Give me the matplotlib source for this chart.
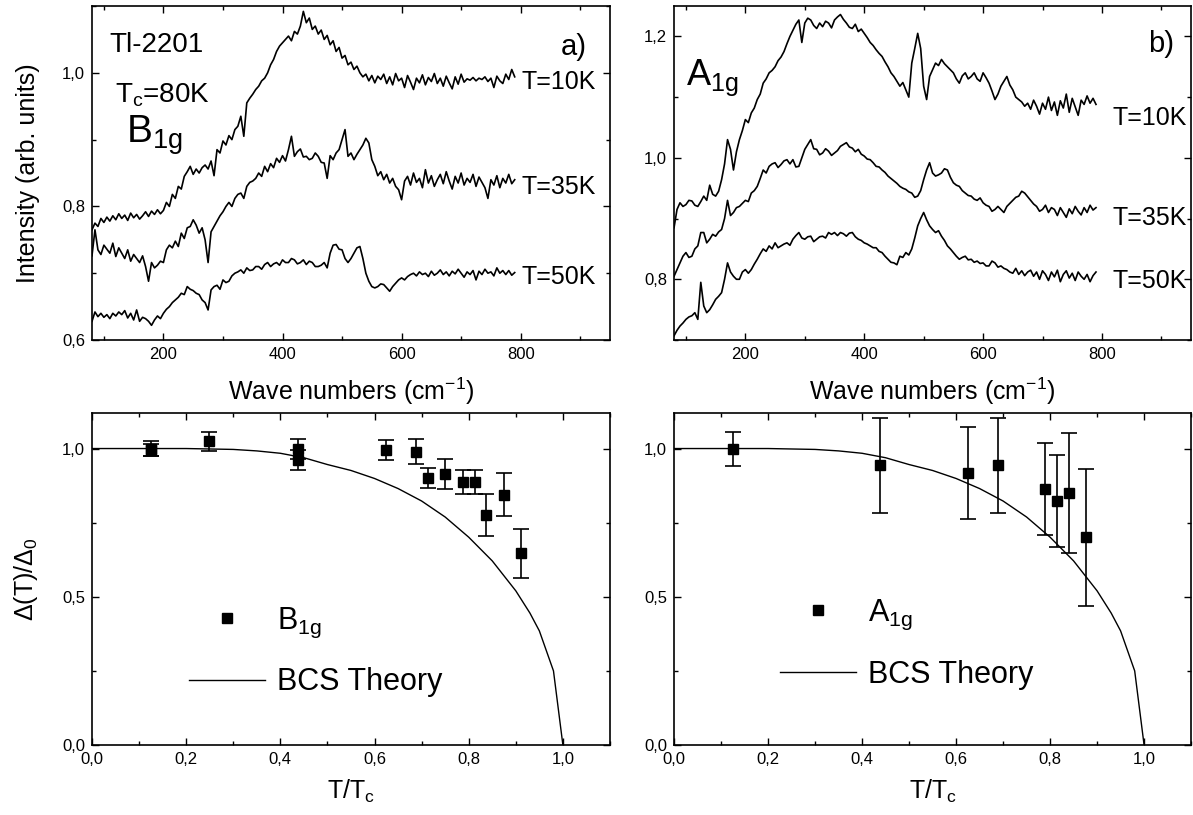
import matplotlib
matplotlib.use("Agg")
import matplotlib.pyplot as plt
import numpy as np
from matplotlib.ticker import MultipleLocator, FuncFormatter
from matplotlib.lines import Line2D

plt.rcParams['font.family'] = ['Liberation Sans', 'DejaVu Sans']
plt.rcParams['mathtext.fontset'] = 'custom'
plt.rcParams['mathtext.rm'] = 'Liberation Sans'
plt.rcParams['mathtext.it'] = 'Liberation Sans:italic'

# Raman spectra, sampled every 5 cm-1 from 80 to 790
wavenumber = np.arange(80, 791, 5)

b1g_10K = [0.765, 0.775, 0.770, 0.782, 0.776, 0.784, 0.778, 0.786, 0.780, 0.789,
           0.782, 0.787, 0.779, 0.790, 0.783, 0.788, 0.781, 0.786, 0.792, 0.785,
           0.793, 0.788, 0.795, 0.789, 0.794, 0.806, 0.800, 0.818, 0.812, 0.830,
           0.826, 0.845, 0.852, 0.860, 0.848, 0.856, 0.850, 0.858, 0.862, 0.856,
           0.868, 0.846, 0.885, 0.880, 0.898, 0.892, 0.906, 0.900, 0.915, 0.920,
           0.935, 0.905, 0.955, 0.962, 0.968, 0.975, 0.980, 0.988, 0.992, 1.000,
           1.012, 1.020, 1.032, 1.040, 1.045, 1.050, 1.055, 1.048, 1.062, 1.058,
           1.070, 1.092, 1.075, 1.082, 1.065, 1.070, 1.058, 1.064, 1.050, 1.056,
           1.042, 1.048, 1.032, 1.038, 1.022, 1.026, 1.012, 1.016, 1.005, 1.010,
           1.000, 0.994, 0.998, 0.988, 0.996, 0.985, 0.995, 0.990, 0.998, 0.984,
           0.994, 0.982, 0.999, 0.988, 0.992, 0.978, 0.996, 0.986, 0.975, 0.992,
           0.985, 0.997, 0.982, 0.993, 0.987, 0.999, 0.984, 0.992, 0.980, 0.995,
           0.985, 0.976, 0.994, 0.983, 0.998, 0.986, 0.991, 0.989, 0.993, 0.988,
           0.992, 0.990, 0.994, 0.987, 0.992, 0.978, 0.995, 0.988, 0.984, 0.998,
           0.990, 1.005, 0.994]
b1g_35K = [0.726, 0.765, 0.735, 0.728, 0.742, 0.736, 0.730, 0.745, 0.725, 0.738,
           0.730, 0.722, 0.735, 0.718, 0.728, 0.722, 0.716, 0.726, 0.710, 0.688,
           0.716, 0.708, 0.712, 0.718, 0.716, 0.735, 0.742, 0.738, 0.748, 0.740,
           0.760, 0.752, 0.768, 0.770, 0.780, 0.772, 0.760, 0.768, 0.750, 0.716,
           0.762, 0.770, 0.778, 0.786, 0.792, 0.800, 0.806, 0.800, 0.812, 0.818,
           0.820, 0.812, 0.830, 0.836, 0.838, 0.842, 0.850, 0.845, 0.860, 0.852,
           0.864, 0.858, 0.872, 0.866, 0.876, 0.868, 0.885, 0.905, 0.875, 0.882,
           0.886, 0.874, 0.875, 0.870, 0.872, 0.880, 0.875, 0.866, 0.865, 0.842,
           0.876, 0.870, 0.880, 0.885, 0.900, 0.915, 0.875, 0.880, 0.870, 0.878,
           0.885, 0.892, 0.902, 0.895, 0.870, 0.860, 0.846, 0.852, 0.840, 0.848,
           0.835, 0.842, 0.830, 0.825, 0.810, 0.838, 0.845, 0.832, 0.850, 0.836,
           0.842, 0.828, 0.855, 0.835, 0.846, 0.830, 0.840, 0.848, 0.834, 0.852,
           0.838, 0.826, 0.845, 0.835, 0.850, 0.832, 0.842, 0.836, 0.848, 0.830,
           0.844, 0.836, 0.828, 0.812, 0.840, 0.832, 0.846, 0.828, 0.842, 0.835,
           0.848, 0.834, 0.840]
b1g_50K = [0.628, 0.642, 0.635, 0.640, 0.634, 0.638, 0.632, 0.640, 0.636, 0.642,
           0.638, 0.644, 0.633, 0.640, 0.630, 0.645, 0.628, 0.634, 0.632, 0.628,
           0.622, 0.630, 0.636, 0.632, 0.640, 0.646, 0.650, 0.656, 0.660, 0.664,
           0.670, 0.668, 0.680, 0.676, 0.674, 0.670, 0.668, 0.660, 0.656, 0.645,
           0.675, 0.680, 0.682, 0.676, 0.690, 0.686, 0.688, 0.696, 0.700, 0.702,
           0.705, 0.700, 0.708, 0.704, 0.705, 0.710, 0.710, 0.706, 0.713, 0.716,
           0.710, 0.714, 0.716, 0.712, 0.720, 0.716, 0.716, 0.722, 0.720, 0.714,
           0.716, 0.720, 0.713, 0.718, 0.716, 0.710, 0.710, 0.712, 0.716, 0.708,
           0.730, 0.742, 0.743, 0.736, 0.735, 0.722, 0.716, 0.722, 0.730, 0.738,
           0.740, 0.722, 0.700, 0.688, 0.680, 0.678, 0.680, 0.684, 0.683, 0.678,
           0.673, 0.680, 0.685, 0.690, 0.693, 0.690, 0.695, 0.698, 0.700, 0.696,
           0.702, 0.698, 0.700, 0.695, 0.703, 0.697, 0.700, 0.705, 0.698, 0.702,
           0.696, 0.703, 0.699, 0.706, 0.700, 0.694, 0.702, 0.698, 0.704, 0.690,
           0.703, 0.698, 0.706, 0.700, 0.702, 0.696, 0.708, 0.700, 0.704, 0.698,
           0.704, 0.697, 0.701]

a1g_10K = [0.885, 0.915, 0.926, 0.920, 0.923, 0.930, 0.929, 0.922, 0.920, 0.928,
           0.937, 0.930, 0.955, 0.940, 0.937, 0.945, 0.964, 0.990, 1.030, 1.014,
           0.980, 1.010, 1.030, 1.045, 1.063, 1.058, 1.074, 1.082, 1.096, 1.105,
           1.123, 1.130, 1.140, 1.144, 1.150, 1.160, 1.166, 1.175, 1.188, 1.200,
           1.210, 1.220, 1.227, 1.190, 1.222, 1.230, 1.227, 1.218, 1.213, 1.222,
           1.216, 1.225, 1.222, 1.214, 1.227, 1.232, 1.236, 1.228, 1.222, 1.215,
           1.213, 1.220, 1.208, 1.212, 1.205, 1.198, 1.190, 1.185, 1.178, 1.172,
           1.167, 1.158, 1.150, 1.140, 1.134, 1.126, 1.118, 1.124, 1.112, 1.100,
           1.156, 1.180, 1.205, 1.180, 1.118, 1.096, 1.134, 1.145, 1.156, 1.152,
           1.162, 1.155, 1.150, 1.145, 1.140, 1.130, 1.123, 1.135, 1.140, 1.130,
           1.134, 1.140, 1.130, 1.126, 1.140, 1.132, 1.123, 1.110, 1.096, 1.105,
           1.118, 1.126, 1.134, 1.120, 1.112, 1.100, 1.096, 1.092, 1.085, 1.090,
           1.080, 1.095, 1.085, 1.072, 1.090, 1.080, 1.100, 1.078, 1.092, 1.070,
           1.094, 1.082, 1.105, 1.075, 1.098, 1.084, 1.070, 1.095, 1.088, 1.102,
           1.090, 1.098, 1.088]
a1g_35K = [0.805, 0.816, 0.827, 0.838, 0.844, 0.836, 0.838, 0.850, 0.855, 0.877,
           0.877, 0.860, 0.866, 0.874, 0.871, 0.878, 0.882, 0.900, 0.930, 0.905,
           0.910, 0.918, 0.920, 0.925, 0.930, 0.928, 0.942, 0.946, 0.953, 0.966,
           0.980, 0.975, 0.986, 0.990, 0.992, 0.984, 0.989, 0.995, 0.997, 0.990,
           0.997, 0.985, 0.986, 1.000, 1.014, 1.022, 1.030, 1.015, 1.014, 1.005,
           1.008, 1.015, 1.011, 1.004, 1.008, 1.012, 1.019, 1.022, 1.025, 1.018,
           1.016, 1.010, 1.014, 1.006, 1.003, 0.998, 0.997, 0.992, 0.986, 0.985,
           0.980, 0.976, 0.970, 0.966, 0.962, 0.958, 0.953, 0.950, 0.948, 0.944,
           0.942, 0.935, 0.937, 0.946, 0.964, 0.980, 0.992, 0.975, 0.970, 0.972,
           0.975, 0.982, 0.980, 0.968, 0.959, 0.955, 0.953, 0.946, 0.942, 0.938,
           0.937, 0.932, 0.930, 0.934, 0.926, 0.922, 0.920, 0.912, 0.915, 0.920,
           0.915, 0.910, 0.920, 0.925, 0.930, 0.935, 0.937, 0.945, 0.942, 0.936,
           0.930, 0.924, 0.920, 0.912, 0.915, 0.922, 0.910, 0.918, 0.915, 0.905,
           0.918, 0.910, 0.902, 0.916, 0.908, 0.920, 0.912, 0.906, 0.918, 0.910,
           0.922, 0.914, 0.918]
a1g_50K = [0.707, 0.716, 0.723, 0.728, 0.734, 0.738, 0.740, 0.745, 0.734, 0.795,
           0.756, 0.745, 0.750, 0.758, 0.767, 0.772, 0.778, 0.800, 0.827, 0.812,
           0.805, 0.800, 0.800, 0.812, 0.816, 0.810, 0.816, 0.825, 0.833, 0.842,
           0.850, 0.846, 0.855, 0.850, 0.860, 0.852, 0.855, 0.858, 0.860, 0.856,
           0.866, 0.872, 0.877, 0.868, 0.866, 0.870, 0.871, 0.862, 0.866, 0.870,
           0.871, 0.868, 0.877, 0.874, 0.877, 0.872, 0.877, 0.875, 0.871, 0.876,
           0.877, 0.870, 0.866, 0.864, 0.860, 0.858, 0.855, 0.852, 0.852, 0.846,
           0.844, 0.838, 0.833, 0.828, 0.827, 0.824, 0.838, 0.836, 0.844, 0.840,
           0.850, 0.868, 0.888, 0.900, 0.910, 0.898, 0.888, 0.882, 0.877, 0.880,
           0.871, 0.864, 0.855, 0.850, 0.844, 0.838, 0.833, 0.836, 0.838, 0.832,
           0.833, 0.828, 0.830, 0.826, 0.827, 0.822, 0.822, 0.830, 0.827, 0.820,
           0.822, 0.818, 0.816, 0.812, 0.810, 0.818, 0.808, 0.814, 0.806, 0.812,
           0.815, 0.805, 0.812, 0.800, 0.814, 0.808, 0.798, 0.812, 0.804, 0.815,
           0.796, 0.808, 0.814, 0.802, 0.810, 0.798, 0.812, 0.805, 0.800, 0.808,
           0.796, 0.806, 0.812]

# BCS curve
bcs_t = [0.0, 0.1, 0.2, 0.3, 0.35, 0.4, 0.45, 0.5, 0.55, 0.6, 0.65, 0.7,
         0.75, 0.8, 0.85, 0.9, 0.93, 0.95, 0.98, 1.0]
bcs_gap = [1.0, 1.0, 1.0, 0.997, 0.992, 0.984, 0.969, 0.946, 0.926, 0.899,
           0.865, 0.823, 0.769, 0.701, 0.621, 0.520, 0.445, 0.385, 0.25, 0.0]

# gap values with error bars
b1g_t = [0.125, 0.125, 0.249, 0.438, 0.438, 0.625, 0.688, 0.713, 0.749, 0.787, 0.813, 0.837, 0.876, 0.912]
b1g_gap = [1.0, 0.995, 1.024, 0.998, 0.962, 0.996, 0.989, 0.902, 0.914, 0.886, 0.886, 0.776, 0.844, 0.647]
b1g_err = [0.025, 0.02, 0.033, 0.033, 0.033, 0.034, 0.042, 0.034, 0.05, 0.04, 0.04, 0.072, 0.073, 0.083]

a1g_t = [0.126, 0.439, 0.626, 0.690, 0.790, 0.814, 0.841, 0.877]
a1g_gap = [0.999, 0.944, 0.918, 0.944, 0.863, 0.823, 0.849, 0.700]
a1g_err = [0.058, 0.16, 0.155, 0.16, 0.154, 0.155, 0.203, 0.23]

comma = FuncFormatter(lambda v, p: f"{v:.1f}".replace('.', ','))
intfmt = FuncFormatter(lambda v, p: f"{v:.0f}")


def style(ax):
    ax.tick_params(which='both', direction='in', top=True, right=True,
                   labelsize=12, width=1.0, pad=5)
    ax.tick_params(which='major', length=5)
    ax.tick_params(which='minor', length=3)
    for s in ax.spines.values():
        s.set_linewidth(1.2)


fig = plt.figure(figsize=(11.93, 8.15), dpi=100)
ax_a = fig.add_axes([0.0771, 0.5828, 0.4342, 0.4098])
ax_b = fig.add_axes([0.5650, 0.5828, 0.4334, 0.4098])
ax_c = fig.add_axes([0.0771, 0.0859, 0.4342, 0.4074])
ax_d = fig.add_axes([0.5650, 0.0859, 0.4334, 0.4074])

# top panels: spectra
for ax, curves in ((ax_a, (b1g_10K, b1g_35K, b1g_50K)),
                   (ax_b, (a1g_10K, a1g_35K, a1g_50K))):
    for c in curves:
        ax.plot(wavenumber, c, color='black', lw=1.2)
    ax.set_xlim(80, 950)
    ax.xaxis.set_major_locator(MultipleLocator(200))
    ax.xaxis.set_minor_locator(MultipleLocator(100))
    ax.xaxis.set_major_formatter(intfmt)
    ax.yaxis.set_major_locator(MultipleLocator(0.2))
    ax.yaxis.set_minor_locator(MultipleLocator(0.1))
    ax.yaxis.set_major_formatter(comma)
    ax.set_xlabel("Wave numbers (cm$^{-1}$)", fontsize=18, labelpad=10)
    style(ax)

ax_a.set_ylim(0.6, 1.10)
ax_b.set_ylim(0.7, 1.25)
ax_a.set_ylabel("Intensity (arb. units)", fontsize=18, labelpad=16)

ax_a.text(0.033, 0.883, "Tl-2201", transform=ax_a.transAxes, fontsize=20, va='center')
ax_a.text(0.044, 0.71, "T$_\\mathregular{c}$=80K", transform=ax_a.transAxes, fontsize=20, va='baseline')
ax_a.text(0.066, 0.59, "B$_\\mathregular{1g}$", transform=ax_a.transAxes, fontsize=28, va='baseline')
ax_a.text(0.905, 0.877, "a)", transform=ax_a.transAxes, fontsize=21, va='center')
for lab, y in (("T=10K", 0.987), ("T=35K", 0.829), ("T=50K", 0.694)):
    ax_a.text(802, y, lab, fontsize=18, va='center')

ax_b.text(0.023, 0.763, "A$_\\mathregular{1g}$", transform=ax_b.transAxes, fontsize=26, va='baseline')
ax_b.text(0.917, 0.886, "b)", transform=ax_b.transAxes, fontsize=21, va='center')
for lab, y in (("T=10K", 1.066), ("T=35K", 0.901), ("T=50K", 0.798)):
    ax_b.text(818, y, lab, fontsize=18, va='center')

# bottom panels: gap vs temperature
for ax, t, g, e, name, anchor in ((ax_c, b1g_t, b1g_gap, b1g_err, "B$_\\mathregular{1g}$", (0.187, 0.42)),
                                  (ax_d, a1g_t, a1g_gap, a1g_err, "A$_\\mathregular{1g}$", (0.204, 0.443))):
    ax.plot(bcs_t, bcs_gap, color='black', lw=1.0)
    ax.errorbar(t, g, yerr=e, fmt='s', color='black', ms=6.5, capsize=5.5,
                elinewidth=1.2, capthick=1.2)
    ax.set_xlim(0, 1.1)
    ax.set_ylim(0, 1.12)
    ax.xaxis.set_major_locator(MultipleLocator(0.2))
    ax.xaxis.set_minor_locator(MultipleLocator(0.1))
    ax.yaxis.set_major_locator(MultipleLocator(0.5))
    ax.yaxis.set_minor_locator(MultipleLocator(0.25))
    ax.xaxis.set_major_formatter(comma)
    ax.yaxis.set_major_formatter(comma)
    ax.set_xlabel("T/T$_\\mathregular{c}$", fontsize=18, labelpad=8)
    handles = [Line2D([], [], ls='none', marker='s', color='black', ms=6.5),
               Line2D([], [], color='black', lw=1.0)]
    ax.legend(handles, [name, "BCS Theory"], loc='upper left', bbox_to_anchor=anchor,
              frameon=False, fontsize=22, handlelength=2.5, handletextpad=0.4,
              labelspacing=0.9, borderpad=0, borderaxespad=0)
    style(ax)

ax_c.set_ylabel("Δ(T)/Δ$_\\mathregular{0}$", fontsize=18, labelpad=16)

fig.savefig("out.png", dpi=100)
